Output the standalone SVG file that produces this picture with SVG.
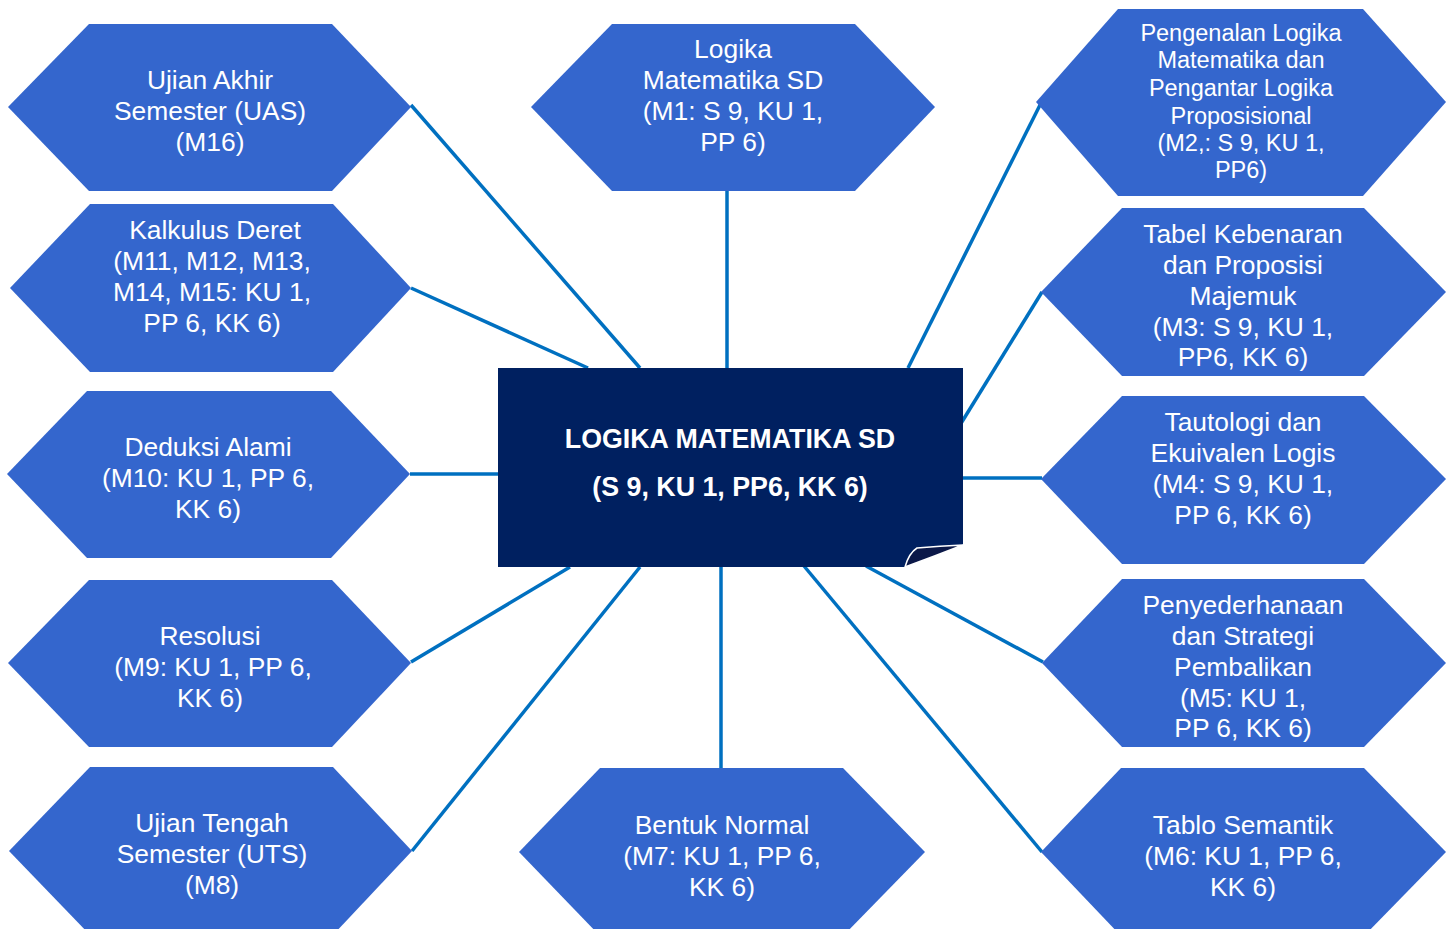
<svg xmlns="http://www.w3.org/2000/svg" width="1454" height="929" viewBox="0 0 1454 929">
<style>
.hex{fill:#3466CD;}
.t{font-family:"Liberation Sans",Arial,sans-serif;font-size:26.4px;fill:#ffffff;text-anchor:middle;}
.ts{font-family:"Liberation Sans",Arial,sans-serif;font-size:23.5px;fill:#ffffff;text-anchor:middle;}
.tb{font-family:"Liberation Sans",Arial,sans-serif;font-size:26.8px;font-weight:bold;fill:#ffffff;text-anchor:middle;}
.c{stroke:#0070C0;stroke-width:3.5;fill:none;}
</style>
<rect width="1454" height="929" fill="#ffffff"/>
<g id="connectors">
<line class="c" x1="411" y1="105" x2="640" y2="368"/>
<line class="c" x1="411" y1="288" x2="588" y2="368"/>
<line class="c" x1="410" y1="474" x2="498" y2="474"/>
<line class="c" x1="411" y1="662" x2="570" y2="567"/>
<line class="c" x1="412" y1="851" x2="640" y2="567"/>
<line class="c" x1="727" y1="190" x2="727" y2="368"/>
<line class="c" x1="721" y1="567" x2="721" y2="769"/>
<line class="c" x1="1041" y1="103" x2="908" y2="368"/>
<line class="c" x1="1042" y1="292" x2="960" y2="425"/>
<line class="c" x1="962" y1="478" x2="1042" y2="478"/>
<line class="c" x1="866" y1="566" x2="1043" y2="662"/>
<line class="c" x1="804" y1="566" x2="1042" y2="852"/>
</g>
<g id="center">
<path d="M498,368 H963 V545 Q935,556 905,567 H498 Z" fill="#002060"/>
<path d="M905,567 Q909,553 917,548 Q940,546 963,545 Q935,556 905,567 Z" fill="#0B1848" stroke="#ffffff" stroke-width="1.5"/>
<text class="tb" x="730" y="448">LOGIKA MATEMATIKA SD</text>
<text class="tb" x="730" y="496">(S 9, KU 1, PP6, KK 6)</text>
</g>
<g id="n-uas">
<polygon class="hex" points="89,24 332,24 411,107 332,191 89,191 8,107"/>
<text class="t" x="210" y="89">Ujian Akhir</text>
<text class="t" x="210" y="120">Semester (UAS)</text>
<text class="t" x="210" y="151">(M16)</text>
</g>
<g id="n-kalkulus">
<polygon class="hex" points="90,204 333,204 411,288 333,372 90,372 10,288"/>
<text class="t" x="215" y="239">Kalkulus Deret</text>
<text class="t" x="212" y="270">(M11, M12, M13,</text>
<text class="t" x="212" y="301">M14, M15: KU 1,</text>
<text class="t" x="212" y="332">PP 6, KK 6)</text>
</g>
<g id="n-deduksi">
<polygon class="hex" points="87,391 331,391 410,474 331,558 87,558 7,474"/>
<text class="t" x="208" y="456">Deduksi Alami</text>
<text class="t" x="208" y="487">(M10: KU 1, PP 6,</text>
<text class="t" x="208" y="518">KK 6)</text>
</g>
<g id="n-resolusi">
<polygon class="hex" points="89,580 332,580 411,663 332,747 89,747 8,663"/>
<text class="t" x="210" y="645">Resolusi</text>
<text class="t" x="213" y="676">(M9: KU 1, PP 6,</text>
<text class="t" x="210" y="707">KK 6)</text>
</g>
<g id="n-uts">
<polygon class="hex" points="90,767 333,767 412,851 333,935 90,935 9,851"/>
<text class="t" x="212" y="832">Ujian Tengah</text>
<text class="t" x="212" y="863">Semester (UTS)</text>
<text class="t" x="212" y="894">(M8)</text>
</g>
<g id="n-m1">
<polygon class="hex" points="612,24 855,24 935,107 855,191 612,191 531,107"/>
<text class="t" x="733" y="58">Logika</text>
<text class="t" x="733" y="89">Matematika SD</text>
<text class="t" x="733" y="120">(M1: S 9, KU 1,</text>
<text class="t" x="733" y="151">PP 6)</text>
</g>
<g id="n-m7">
<polygon class="hex" points="600,768 843,768 925,852 843,936 600,936 519,852"/>
<text class="t" x="722" y="834">Bentuk Normal</text>
<text class="t" x="722" y="865">(M7: KU 1, PP 6,</text>
<text class="t" x="722" y="896">KK 6)</text>
</g>
<g id="n-m2">
<polygon class="hex" points="1118,9 1363,9 1446,102 1363,196 1118,196 1036,102"/>
<text class="ts" x="1241" y="41">Pengenalan Logika</text>
<text class="ts" x="1241" y="68">Matematika dan</text>
<text class="ts" x="1241" y="96">Pengantar Logika</text>
<text class="ts" x="1241" y="124">Proposisional</text>
<text class="ts" x="1241" y="151">(M2,: S 9, KU 1,</text>
<text class="ts" x="1241" y="178">PP6)</text>
</g>
<g id="n-m3">
<polygon class="hex" points="1122,208 1364,208 1446,292 1364,376 1122,376 1041,292"/>
<text class="t" x="1243" y="243">Tabel Kebenaran</text>
<text class="t" x="1243" y="274">dan Proposisi</text>
<text class="t" x="1243" y="305">Majemuk</text>
<text class="t" x="1243" y="336">(M3: S 9, KU 1,</text>
<text class="t" x="1243" y="366">PP6, KK 6)</text>
</g>
<g id="n-m4">
<polygon class="hex" points="1122,396 1364,396 1446,479 1364,564 1122,564 1041,479"/>
<text class="t" x="1243" y="431">Tautologi dan</text>
<text class="t" x="1243" y="462">Ekuivalen Logis</text>
<text class="t" x="1243" y="493">(M4: S 9, KU 1,</text>
<text class="t" x="1243" y="524">PP 6, KK 6)</text>
</g>
<g id="n-m5">
<polygon class="hex" points="1122,579 1364,579 1446,663 1364,747 1122,747 1042,663"/>
<text class="t" x="1243" y="614">Penyederhanaan</text>
<text class="t" x="1243" y="645">dan Strategi</text>
<text class="t" x="1243" y="676">Pembalikan</text>
<text class="t" x="1243" y="707">(M5: KU 1,</text>
<text class="t" x="1243" y="737">PP 6, KK 6)</text>
</g>
<g id="n-m6">
<polygon class="hex" points="1121,768 1364,768 1446,852 1364,936 1121,936 1041,852"/>
<text class="t" x="1243" y="834">Tablo Semantik</text>
<text class="t" x="1243" y="865">(M6: KU 1, PP 6,</text>
<text class="t" x="1243" y="896">KK 6)</text>
</g>
</svg>
